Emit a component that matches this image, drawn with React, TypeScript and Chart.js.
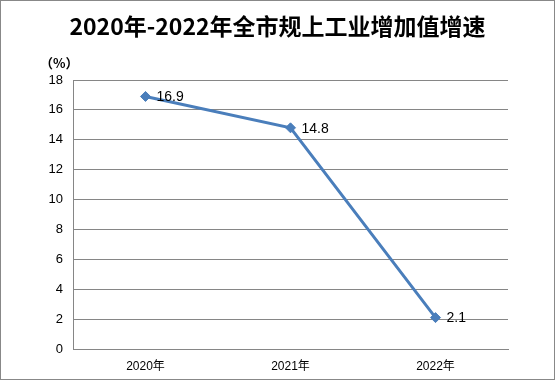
import React, { useEffect, useRef } from "react";
import { Chart, registerables } from "chart.js";

Chart.register(...registerables);

const categories = ["2020年", "2021年", "2022年"];
const growth = [16.9, 14.8, 2.1];
const yTicks = [0, 2, 4, 6, 8, 10, 12, 14, 16, 18];
const titleText = "2020年-2022年全市规上工业增加值增速";
const unitText = "（%）";

const FONT = "'Liberation Sans', 'Noto Sans CJK SC', sans-serif";

const overlayPlugin = {
  id: "overlay",
  afterDraw(chart: any) {
    const ctx = chart.ctx;
    ctx.save();
    // title
    ctx.fillStyle = "#000";
    ctx.font = "bold 23px 'Noto Sans CJK SC', sans-serif";
    ctx.textAlign = "center";
    ctx.textBaseline = "middle";
    ctx.fillText(titleText, chart.width / 2, 25);
    // unit
    ctx.font = "bold 13px 'Noto Sans CJK SC', sans-serif";
    ctx.textAlign = "left";
    ctx.fillText(unitText, 39, 62);
    // data labels
    const meta = chart.getDatasetMeta(0);
    ctx.font = "14px " + FONT;
    ctx.textAlign = "left";
    ctx.textBaseline = "middle";
    meta.data.forEach((pt: any, i: number) => {
      ctx.fillText(String(growth[i]), pt.x + 11, pt.y + 1);
    });
    ctx.restore();
  },
};

export default function App() {
  const ref = useRef<HTMLCanvasElement>(null);
  useEffect(() => {
    document.body.style.margin = "0";
    const chart = new Chart(ref.current!, {
      type: "line",
      data: {
        labels: categories,
        datasets: [
          {
            data: growth,
            borderColor: "#4A7EBB",
            backgroundColor: "#4A7EBB",
            borderWidth: 3,
            pointStyle: "rectRot",
            pointRadius: 5,
            pointBorderWidth: 1,
            tension: 0,
          },
        ],
      },
      options: {
        animation: false,
        responsive: false,
        maintainAspectRatio: false,
        layout: { padding: { left: 0, right: 46, top: 79, bottom: 0 } },
        plugins: {
          legend: { display: false },
          title: { display: false },
          tooltip: { enabled: false },
        },
        scales: {
          x: {
            offset: true,
            grid: { display: false, drawTicks: false },
            border: { display: true, color: "#868686", width: 1 },
            ticks: { color: "#000", font: { size: 12, family: FONT }, padding: 10 },
            afterFit(scale: any) {
              scale.height = 30;
            },
          },
          y: {
            min: 0,
            max: 18,
            afterBuildTicks(scale: any) {
              scale.ticks = yTicks.map((v) => ({ value: v }));
            },
            grid: { color: "#868686", drawTicks: false, lineWidth: 1 },
            border: { display: true, color: "#868686", width: 1 },
            ticks: { color: "#000", font: { size: 13, family: FONT }, padding: 10 },
            afterFit(scale: any) {
              scale.width = 72;
            },
          },
        },
      },
      plugins: [overlayPlugin],
    });
    return () => chart.destroy();
  }, []);
  return (
    <div
      style={{
        position: "absolute",
        left: 0,
        top: 0,
        width: 555,
        height: 380,
        border: "1px solid #888",
        boxSizing: "border-box",
        background: "#fff",
      }}
    >
      <canvas ref={ref} width={553} height={378} style={{ display: "block" }} />
    </div>
  );
}
